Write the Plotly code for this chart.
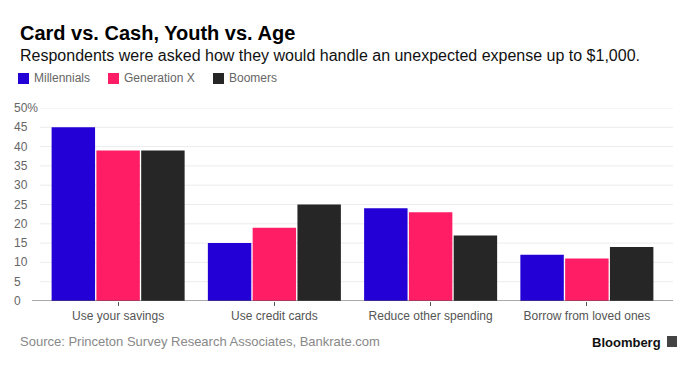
import plotly.graph_objects as go

categories = ["Use your savings", "Use credit cards", "Reduce other spending", "Borrow from loved ones"]
series_names = ["Millennials", "Generation X", "Boomers"]
millennials = [45, 15, 24, 12]
generation_x = [39, 19, 23, 11]
boomers = [39, 25, 17, 14]
y_ticks = [0, 5, 10, 15, 20, 25, 30, 35, 40, 45, 50]
y_tick_labels = ["0", "5", "10", "15", "20", "25", "30", "35", "40", "45", "50%"]

colors = ["#2200d6", "#ff1e66", "#262626"]
FONT = "Liberation Sans, Arial, sans-serif"

# page body has an 8px margin; figure is sized to fill the rest of the window
O = 8
W, H = 696 - O, 368 - O
# margins in figure coords (reference plot area: x 40..665, y 108..301)
ML, MR, MT, MB = 40 - O, 696 - 665, 108 - O, 368 - 301

pw, ph = W - ML - MR, H - MT - MB


def px(x):  # reference pixel x -> paper
    return (x - O - ML) / pw


def py(y):  # reference pixel y -> paper
    return (H - MB - (y - O)) / ph


fig = go.Figure()

# gridlines (extend slightly past the plot area, like the reference)
for v in y_ticks[1:]:
    fig.add_shape(type="line", xref="paper", yref="y", x0=px(40), x1=px(673), y0=v, y1=v,
                  line=dict(color="#ececec", width=1), layer="below")

for name, vals, c in zip(series_names, [millennials, generation_x, boomers], colors):
    fig.add_trace(go.Bar(x=categories, y=vals, name=name, marker=dict(color=c, line=dict(width=0)),
                         showlegend=False))

fig.update_layout(
    width=W, height=H,
    margin=dict(l=ML, r=MR, t=MT, b=MB),
    paper_bgcolor="white", plot_bgcolor="white",
    barmode="group", bargap=0.14, bargroupgap=0.03,
    font=dict(family=FONT, color="#666666", size=12),
    xaxis=dict(showgrid=False, showline=False, ticks="outside", ticklen=4, tickcolor="#555555",
               tickfont=dict(size=12, color="#555555"), zeroline=False),
    yaxis=dict(range=[0, 50], tickvals=y_ticks, showticklabels=False, showgrid=False,
               zeroline=False, showline=False, fixedrange=True),
)

# baseline
fig.add_shape(type="line", xref="paper", yref="y", x0=px(32), x1=px(673), y0=0, y1=0,
              line=dict(color="#555555", width=1))

# y tick labels (left aligned)
for v, lab in zip(y_ticks, y_tick_labels):
    fig.add_annotation(x=px(12), xref="paper", y=v, yref="y", text=lab, showarrow=False,
                       xanchor="left", yanchor="middle", font=dict(size=12, color="#666666"))

# title / subtitle
fig.add_annotation(x=px(18), y=py(33), xref="paper", yref="paper", text="<b>Card vs. Cash, Youth vs. Age</b>",
                   showarrow=False, xanchor="left", yanchor="middle", font=dict(size=20, color="#000000"))
fig.add_annotation(x=px(18), y=py(56), xref="paper", yref="paper",
                   text="Respondents were asked how they would handle an unexpected expense up to $1,000.",
                   showarrow=False, xanchor="left", yanchor="middle", font=dict(size=16, color="#111111"))

# manual legend
leg_x = [18, 108, 213]
for x0, name, c in zip(leg_x, series_names, colors):
    fig.add_shape(type="rect", xref="paper", yref="paper", x0=px(x0), x1=px(x0 + 11),
                  y0=py(84), y1=py(73), fillcolor=c, line=dict(width=0))
    fig.add_annotation(x=px(x0 + 14), y=py(78.5), xref="paper", yref="paper", text=name,
                       showarrow=False, xanchor="left", yanchor="middle",
                       font=dict(size=12, color="#666666"))

# source and logo
fig.add_annotation(x=px(18), y=py(341), xref="paper", yref="paper",
                   text="Source: Princeton Survey Research Associates, Bankrate.com",
                   showarrow=False, xanchor="left", yanchor="middle", font=dict(size=13, color="#888888"))
fig.add_annotation(x=px(663), y=py(342), xref="paper", yref="paper", text="<b>Bloomberg</b>",
                   showarrow=False, xanchor="right", yanchor="middle", font=dict(size=13, color="#111111"))
fig.add_shape(type="rect", xref="paper", yref="paper", x0=px(667), x1=px(677), y0=py(347), y1=py(336),
              fillcolor="#444444", line=dict(width=0))

fig.write_html("out.html")
